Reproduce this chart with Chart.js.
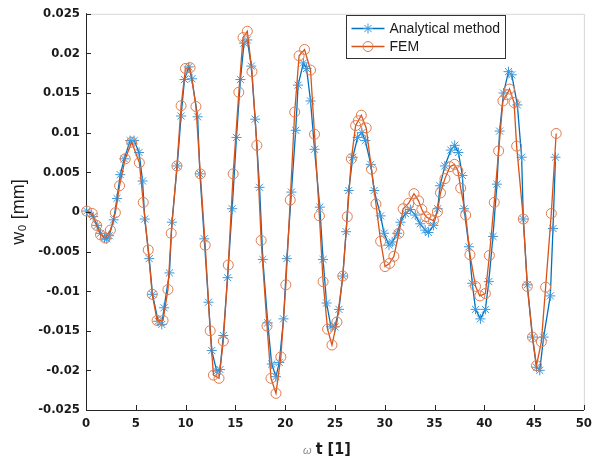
<!DOCTYPE html>
<html>
<head>
<meta charset="utf-8">
<script src="https://cdn.jsdelivr.net/npm/chart.js@4.4.0/dist/chart.umd.min.js"></script>
<style>
html, body { margin: 0; padding: 0; background: #fff; }
#wrap { position: relative; width: 598px; height: 463px; }
</style>
</head>
<body>
<div id="wrap"><canvas id="chart_w0"></canvas></div>
<script>
var xTicks = [0, 5, 10, 15, 20, 25, 30, 35, 40, 45, 50];
var yTicks = [-0.025, -0.02, -0.015, -0.01, -0.005, 0, 0.005, 0.01, 0.015, 0.02, 0.025];
var seriesLabels = ['Analytical method', 'FEM'];
var xTitle = ['\u03c9', 't [1]'];
var yTitle = 'w\u2080 [mm]';

var analyticalX = [0.07, 0.72, 1.12, 1.46, 1.86, 2.08, 2.33, 2.78, 3.11, 3.44,
  3.84, 4.43, 4.83, 5.33, 5.68, 5.90, 6.35, 6.68, 7.24, 7.61,
  7.84, 8.38, 8.63, 9.16, 9.55, 9.89, 10.32, 10.64, 11.21, 11.44,
  11.88, 12.30, 12.63, 13.13, 13.46, 13.79, 14.22, 14.68, 15.11, 15.51,
  15.87, 16.20, 16.60, 16.99, 17.43, 17.76, 18.25, 18.65, 19.08, 19.41,
  19.84, 20.17, 20.63, 21.06, 21.30, 21.83, 22.15, 22.55, 22.95, 23.48,
  23.81, 24.16, 24.60, 25.00, 25.40, 25.79, 26.12, 26.39, 26.79, 27.28,
  27.71, 28.05, 28.60, 28.94, 29.59, 29.93, 30.43, 30.75, 31.25, 31.58,
  32.07, 32.57, 33.07, 33.56, 34.06, 34.39, 34.89, 35.32, 35.55, 36.04,
  36.64, 37.03, 37.40, 37.80, 37.97, 38.46, 38.79, 39.12, 39.61, 40.11,
  40.45, 40.87, 41.27, 41.54, 41.93, 42.43, 42.76, 43.32, 43.75, 43.92,
  44.32, 44.84, 45.24, 45.57, 45.96, 46.63, 46.90, 47.15];
var analyticalY = [0.0001, -0.0006, -0.0017, -0.0027, -0.0033, -0.0034, -0.0030, -0.0010, 0.0017, 0.0047,
  0.0067, 0.0090, 0.0090, 0.0075, 0.0039, -0.0009, -0.0059, -0.0104, -0.0138, -0.0142,
  -0.0121, -0.0077, -0.0013, 0.0058, 0.0121, 0.0167, 0.0183, 0.0168, 0.0120, 0.0048,
  -0.0034, -0.0114, -0.0175, -0.0201, -0.0199, -0.0156, -0.0083, 0.0004, 0.0094, 0.0167,
  0.0213, 0.0217, 0.0184, 0.0117, 0.0031, -0.0060, -0.0140, -0.0192, -0.0208, -0.0190,
  -0.0135, -0.0059, 0.0025, 0.0103, 0.0160, 0.0188, 0.0181, 0.0140, 0.0079, 0.0006,
  -0.0060, -0.0115, -0.0145, -0.0145, -0.0123, -0.0081, -0.0025, 0.0027, 0.0069, 0.0094,
  0.0100, 0.0090, 0.0060, 0.0027, -0.0005, -0.0027, -0.0042, -0.0038, -0.0027, -0.0013,
  -0.0002, 0.0003, -0.0004, -0.0015, -0.0023, -0.0026, -0.0017, 0.0004, 0.0033, 0.0058,
  0.0078, 0.0084, 0.0075, 0.0046, 0.0004, -0.0044, -0.0090, -0.0123, -0.0135, -0.0123,
  -0.0088, -0.0031, 0.0035, 0.0102, 0.0150, 0.0177, 0.0173, 0.0135, 0.0069, -0.0009,
  -0.0092, -0.0158, -0.0196, -0.0200, -0.0158, -0.0106, -0.0021, 0.0069];

var femX = [0.07, 0.63, 1.06, 1.46, 1.95, 2.45, 2.95, 3.37, 3.94, 4.59,
  5.36, 5.75, 6.25, 6.65, 7.14, 7.74, 8.23, 8.56, 9.13, 9.55,
  9.99, 10.45, 11.04, 11.48, 11.97, 12.47, 12.80, 13.36, 13.79, 14.29,
  14.78, 15.35, 15.77, 16.20, 16.67, 17.16, 17.59, 18.18, 18.58, 19.08,
  19.57, 20.07, 20.51, 20.96, 21.40, 21.95, 22.55, 22.95, 23.44, 23.81,
  24.26, 24.70, 25.20, 25.79, 26.24, 26.65, 27.08, 27.35, 27.65, 28.14,
  28.67, 29.12, 29.59, 30.03, 30.49, 30.92, 31.42, 31.85, 32.41, 32.94,
  33.40, 33.73, 34.13, 34.52, 34.89, 35.29, 35.60, 36.05, 36.55, 37.00,
  37.35, 37.63, 38.13, 38.56, 39.12, 39.55, 40.11, 40.51, 41.00, 41.44,
  41.87, 42.26, 42.53, 42.99, 43.25, 43.92, 44.32, 44.84, 45.24, 45.73,
  46.16, 46.73, 47.22];
var femY = [0.0001, -0.0002, -0.0017, -0.0029, -0.0033, -0.0023, -0.0001, 0.0033, 0.0067, 0.0088,
  0.0062, 0.0012, -0.0048, -0.0104, -0.0137, -0.0137, -0.0098, -0.0027, 0.0058, 0.0134,
  0.0181, 0.0182, 0.0133, 0.0048, -0.0042, -0.0150, -0.0206, -0.0210, -0.0163, -0.0067,
  0.0048, 0.0151, 0.0220, 0.0228, 0.0177, 0.0084, -0.0036, -0.0144, -0.0210, -0.0229,
  -0.0183, -0.0092, 0.0015, 0.0126, 0.0197, 0.0205, 0.0179, 0.0098, -0.0005, -0.0088,
  -0.0148, -0.0168, -0.0139, -0.0081, -0.0006, 0.0067, 0.0109, 0.0115, 0.0122, 0.0106,
  0.0054, 0.0010, -0.0037, -0.0069, -0.0065, -0.0056, -0.0027, 0.0004, 0.0011, 0.0023,
  0.0014, 0.0003, -0.0006, -0.0009, -0.0011, 0.0000, 0.0024, 0.0042, 0.0057, 0.0060,
  0.0052, 0.0030, -0.0004, -0.0054, -0.0094, -0.0106, -0.0103, -0.0055, 0.0012, 0.0077,
  0.0140, 0.0148, 0.0155, 0.0138, 0.0083, -0.0009, -0.0094, -0.0158, -0.0194, -0.0164,
  -0.0095, -0.0002, 0.0099];

var blue = '#0072BD';
var orange = '#D95319';
var tickFont = { family: '"DejaVu Sans Condensed", "Liberation Sans", Arial, sans-serif', size: 13, weight: 'bold' };

function toPoints(xs, ys) {
  return xs.map(function(x, i) { return { x: x, y: ys[i] }; });
}

// MATLAB style inward ticks, light box on top/right, x title with small omega
var axisTicksPlugin = {
  id: 'axisTicks',
  afterDraw: function(chart) {
    var ctx = chart.ctx, a = chart.chartArea;
    var xs = chart.scales.x, ys = chart.scales.y;
    ctx.save();
    ctx.strokeStyle = '#d6d6d6';
    ctx.lineWidth = 1;
    ctx.beginPath();
    ctx.moveTo(a.left, a.top + 0.5);
    ctx.lineTo(a.right + 0.5, a.top + 0.5);
    ctx.lineTo(a.right + 0.5, a.bottom);
    ctx.stroke();
    ctx.strokeStyle = '#262626';
    ctx.beginPath();
    xTicks.forEach(function(v) {
      var px = Math.round(xs.getPixelForValue(v)) + 0.5;
      ctx.moveTo(px, a.bottom);
      ctx.lineTo(px, a.bottom - 5);
    });
    yTicks.forEach(function(v) {
      var py = Math.round(ys.getPixelForValue(v)) + 0.5;
      ctx.moveTo(a.left, py);
      ctx.lineTo(a.left + 5, py);
    });
    ctx.stroke();

    // x title: small grey omega followed by bold "t [1]"
    var cx = (a.left + a.right) / 2 - 8, ty = 448;
    ctx.textBaseline = 'alphabetic';
    ctx.font = 'italic 11px "Liberation Sans", Arial, sans-serif';
    var w1 = ctx.measureText(xTitle[0]).width;
    ctx.font = 'bold 16px "DejaVu Sans Condensed", "Liberation Sans", Arial, sans-serif';
    var w2 = ctx.measureText(xTitle[1]).width;
    var x0 = cx - (w1 + 4 + w2) / 2;
    ctx.fillStyle = '#8c8c8c';
    ctx.font = 'italic 11px "Liberation Sans", Arial, sans-serif';
    ctx.fillText(xTitle[0], x0, ty + 6);
    ctx.fillStyle = '#1a1a1a';
    ctx.font = 'bold 16px "DejaVu Sans Condensed", "Liberation Sans", Arial, sans-serif';
    ctx.fillText(xTitle[1], x0 + w1 + 4, ty + 6);
    ctx.restore();
  }
};

// legend box in upper right, line + marker like MATLAB
var boxLegendPlugin = {
  id: 'boxLegend',
  afterDraw: function(chart) {
    var ctx = chart.ctx;
    var bx = 346.5, by = 15.5, bw = 159, bh = 43;
    ctx.save();
    ctx.fillStyle = '#fff';
    ctx.fillRect(bx, by, bw, bh);
    ctx.strokeStyle = '#333';
    ctx.lineWidth = 1;
    ctx.strokeRect(bx, by, bw, bh);
    chart.data.datasets.forEach(function(ds, i) {
      var cy = by + 13 + i * 18;
      ctx.strokeStyle = ds.borderColor;
      ctx.lineWidth = 1.3;
      ctx.beginPath();
      ctx.moveTo(bx + 5, cy);
      ctx.lineTo(bx + 38, cy);
      ctx.stroke();
      var mx = bx + 21.5, r = 5;
      ctx.strokeStyle = ds.pointBorderColor;
      ctx.lineWidth = 1;
      ctx.beginPath();
      if (ds.pointStyle === 'star') {
        for (var k = 0; k < 4; k++) {
          var ang = k * Math.PI / 4;
          ctx.moveTo(mx - r * Math.cos(ang), cy - r * Math.sin(ang));
          ctx.lineTo(mx + r * Math.cos(ang), cy + r * Math.sin(ang));
        }
      } else {
        ctx.arc(mx, cy, r, 0, Math.PI * 2);
      }
      ctx.stroke();
      ctx.fillStyle = '#1a1a1a';
      ctx.font = '14px "Liberation Sans", Arial, sans-serif';
      ctx.textBaseline = 'middle';
      ctx.fillText(ds.label, bx + 43, cy + 0.5);
    });
    ctx.restore();
  }
};

var chart_w0 = new Chart(document.getElementById('chart_w0'), {
  type: 'line',
  data: {
    datasets: [
      {
        label: seriesLabels[0],
        data: toPoints(analyticalX, analyticalY),
        borderColor: blue,
        backgroundColor: blue,
        borderWidth: 1.3,
        pointStyle: 'star',
        pointRadius: 5,
        pointBorderWidth: 1,
        pointBorderColor: '#3a97dc',
        tension: 0,
        clip: false,
        order: 2
      },
      {
        label: seriesLabels[1],
        data: toPoints(femX, femY),
        borderColor: orange,
        backgroundColor: 'rgba(0,0,0,0)',
        borderWidth: 1.3,
        pointStyle: 'circle',
        pointRadius: 5,
        pointBorderWidth: 1,
        pointBorderColor: '#e07a4c',
        pointBackgroundColor: 'rgba(0,0,0,0)',
        tension: 0,
        clip: false,
        order: 1
      }
    ]
  },
  options: {
    animation: false,
    responsive: true,
    maintainAspectRatio: false,
    layout: { padding: { top: 10, right: 8, left: 0, bottom: 0 } },
    plugins: {
      legend: { display: false },
      tooltip: { enabled: false }
    },
    scales: {
      x: {
        type: 'linear',
        min: 0,
        max: 50,
        afterBuildTicks: function(s) { s.ticks = xTicks.map(function(v) { return { value: v }; }); },
        afterFit: function(s) { s.height = 53; },
        grid: { display: false, drawTicks: false },
        border: { display: true, color: '#262626', width: 1 },
        ticks: { font: tickFont, color: '#1a1a1a', padding: 6, maxRotation: 0, autoSkip: false },
        title: { display: false }
      },
      y: {
        type: 'linear',
        min: -0.025,
        max: 0.025,
        afterBuildTicks: function(s) { s.ticks = yTicks.map(function(v) { return { value: v }; }); },
        afterFit: function(s) { s.width = 86; },
        grid: { display: false, drawTicks: false },
        border: { display: true, color: '#262626', width: 1 },
        ticks: {
          font: tickFont,
          color: '#1a1a1a',
          padding: 6,
          autoSkip: false,
          callback: function(v) { return String(parseFloat(Number(v).toFixed(3))); }
        },
        title: {
          display: true,
          text: yTitle,
          font: { family: '"Liberation Sans", Arial, sans-serif', size: 18 },
          color: '#1a1a1a',
          padding: { top: 8, bottom: 0 }
        }
      }
    }
  },
  plugins: [axisTicksPlugin, boxLegendPlugin]
});
</script>
</body>
</html>
